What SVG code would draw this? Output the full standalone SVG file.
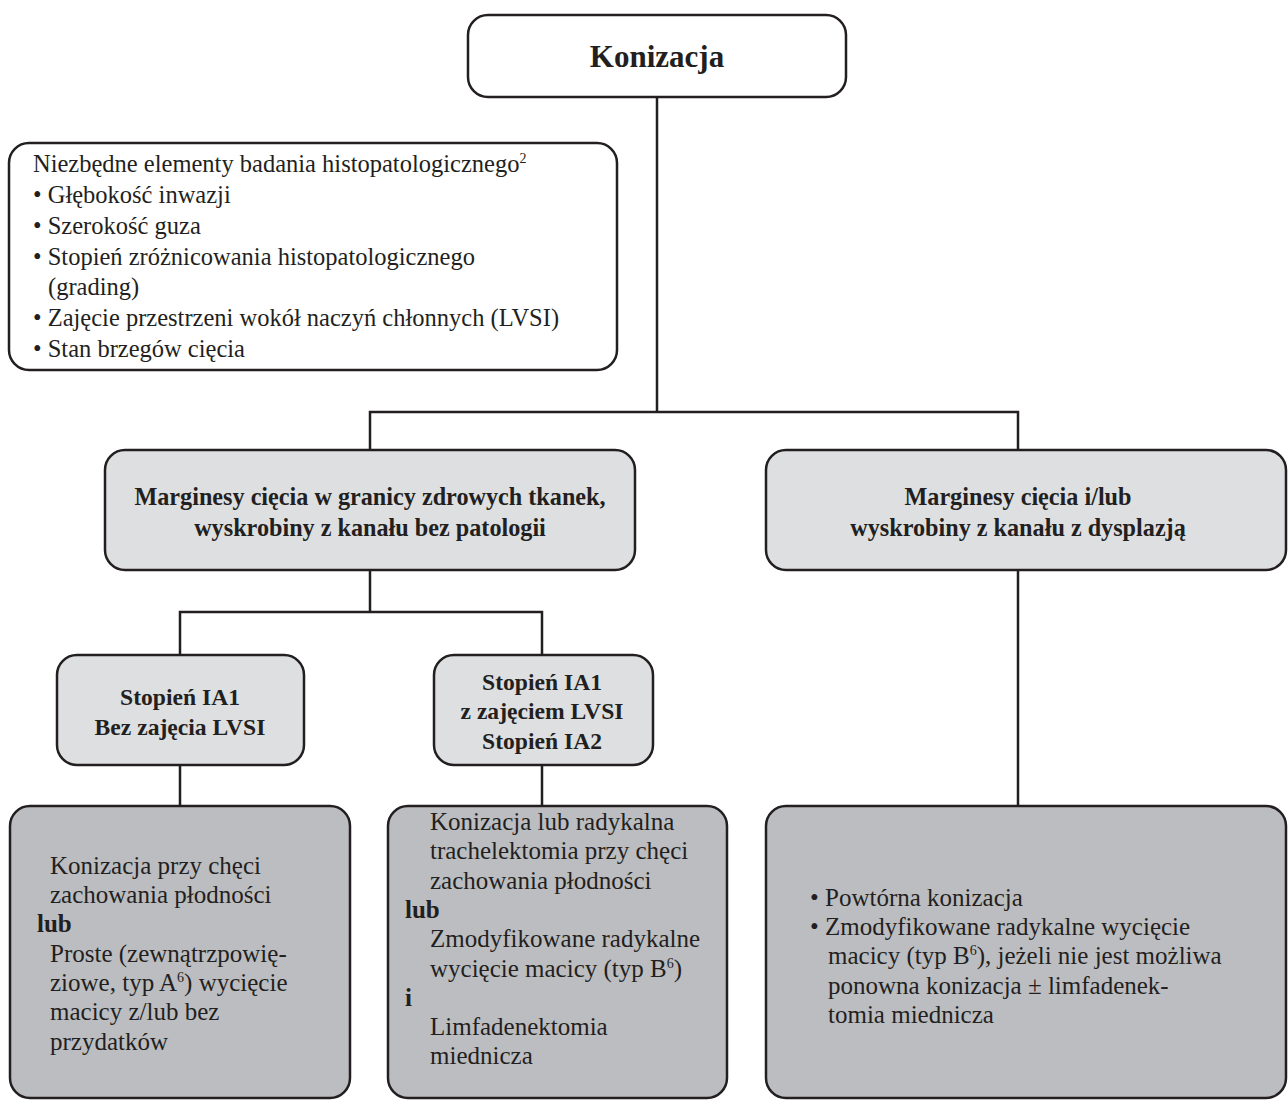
<svg xmlns="http://www.w3.org/2000/svg" width="1288" height="1100" viewBox="0 0 1288 1100">
<style>
.box{stroke:#231f20;stroke-width:2.5}
.w{fill:#ffffff}
.l{fill:#dedfe1}
.d{fill:#bcbdc0}
.c{fill:none;stroke:#231f20;stroke-width:2.5}
text{font-family:"Liberation Serif","Times New Roman",serif;fill:#231f20}
.t{font-size:24.5px}
.s{font-size:25px}
.sb{font-size:25px;font-weight:bold}
.b{font-size:24.2px;font-weight:bold}
.bs{font-size:23.6px;font-weight:bold}
.h{font-size:31px;font-weight:bold}
.m{text-anchor:middle}
.sup{font-size:14px}
</style>
<rect width="1288" height="1100" fill="#ffffff"/>
<g id="connectors">
<path class="c" d="M657 97 V412 M370 450 V412 H1018 V450"/>
<path class="c" d="M370 570 V612 M180 655 V612 H542 V655"/>
<path class="c" d="M180 765 V806 M542 765 V806 M1018 570 V806"/>
</g>
<g id="n-konizacja">
<rect class="box w" x="468" y="15" width="378" height="82" rx="20"/>
<text class="h m" x="657" y="67">Konizacja</text>
</g>
<g id="n-info">
<rect class="box w" x="9" y="143" width="608" height="227" rx="20"/>
<text class="t" x="33" y="172">Niezbędne elementy badania histopatologicznego<tspan class="sup" dy="-9">2</tspan></text>
<text class="t" x="33" y="203">• Głębokość inwazji</text>
<text class="t" x="33" y="234">• Szerokość guza</text>
<text class="t" x="33" y="265">• Stopień zróżnicowania histopatologicznego</text>
<text class="t" x="48" y="295">(grading)</text>
<text class="t" x="33" y="326">• Zajęcie przestrzeni wokół naczyń chłonnych (LVSI)</text>
<text class="t" x="33" y="357">• Stan brzegów cięcia</text>
</g>
<g id="n-margins-ok">
<rect class="box l" x="105" y="450" width="530" height="120" rx="20"/>
<text class="b m" x="370" y="505">Marginesy cięcia w granicy zdrowych tkanek,</text>
<text class="b m" x="370" y="536">wyskrobiny z kanału bez patologii</text>
</g>
<g id="n-margins-dys">
<rect class="box l" x="766" y="450" width="520" height="120" rx="20"/>
<text class="b m" x="1018" y="505">Marginesy cięcia i/lub</text>
<text class="b m" x="1018" y="536">wyskrobiny z kanału z dysplazją</text>
</g>
<g id="n-ia1">
<rect class="box l" x="57" y="655" width="247" height="110" rx="20"/>
<text class="bs m" x="180" y="705">Stopień IA1</text>
<text class="bs m" x="180" y="735">Bez zajęcia LVSI</text>
</g>
<g id="n-ia1-lvsi">
<rect class="box l" x="434" y="655" width="219" height="110" rx="20"/>
<text class="bs m" x="542" y="690">Stopień IA1</text>
<text class="bs m" x="542" y="719">z zajęciem LVSI</text>
<text class="bs m" x="542" y="749">Stopień IA2</text>
</g>
<g id="n-treat-1">
<rect class="box d" x="10" y="806" width="340" height="292" rx="20"/>
<text class="s" x="50" y="874">Konizacja przy chęci</text>
<text class="s" x="50" y="903">zachowania płodności</text>
<text class="sb" x="37" y="932">lub</text>
<text class="s" x="50" y="962">Proste (zewnątrzpowię-</text>
<text class="s" x="50" y="991">ziowe, typ A<tspan class="sup" dy="-9">6</tspan><tspan dy="9">) wycięcie</tspan></text>
<text class="s" x="50" y="1020">macicy z/lub bez</text>
<text class="s" x="50" y="1050">przydatków</text>
</g>
<g id="n-treat-2">
<rect class="box d" x="388" y="806" width="339" height="292" rx="20"/>
<text class="s" x="430" y="830">Konizacja lub radykalna</text>
<text class="s" x="430" y="859">trachelektomia przy chęci</text>
<text class="s" x="430" y="889">zachowania płodności</text>
<text class="sb" x="405" y="918">lub</text>
<text class="s" x="430" y="947">Zmodyfikowane radykalne</text>
<text class="s" x="430" y="977">wycięcie macicy (typ B<tspan class="sup" dy="-9">6</tspan><tspan dy="9">)</tspan></text>
<text class="sb" x="405" y="1006">i</text>
<text class="s" x="430" y="1035">Limfadenektomia</text>
<text class="s" x="430" y="1064">miednicza</text>
</g>
<g id="n-treat-3">
<rect class="box d" x="766" y="806" width="520" height="292" rx="20"/>
<text class="s" x="810" y="906">• Powtórna konizacja</text>
<text class="s" x="810" y="935">• Zmodyfikowane radykalne wycięcie</text>
<text class="s" x="828" y="964">macicy (typ B<tspan class="sup" dy="-9">6</tspan><tspan dy="9">), jeżeli nie jest możliwa</tspan></text>
<text class="s" x="828" y="994">ponowna konizacja ± limfadenek-</text>
<text class="s" x="828" y="1023">tomia miednicza</text>
</g>
</svg>
